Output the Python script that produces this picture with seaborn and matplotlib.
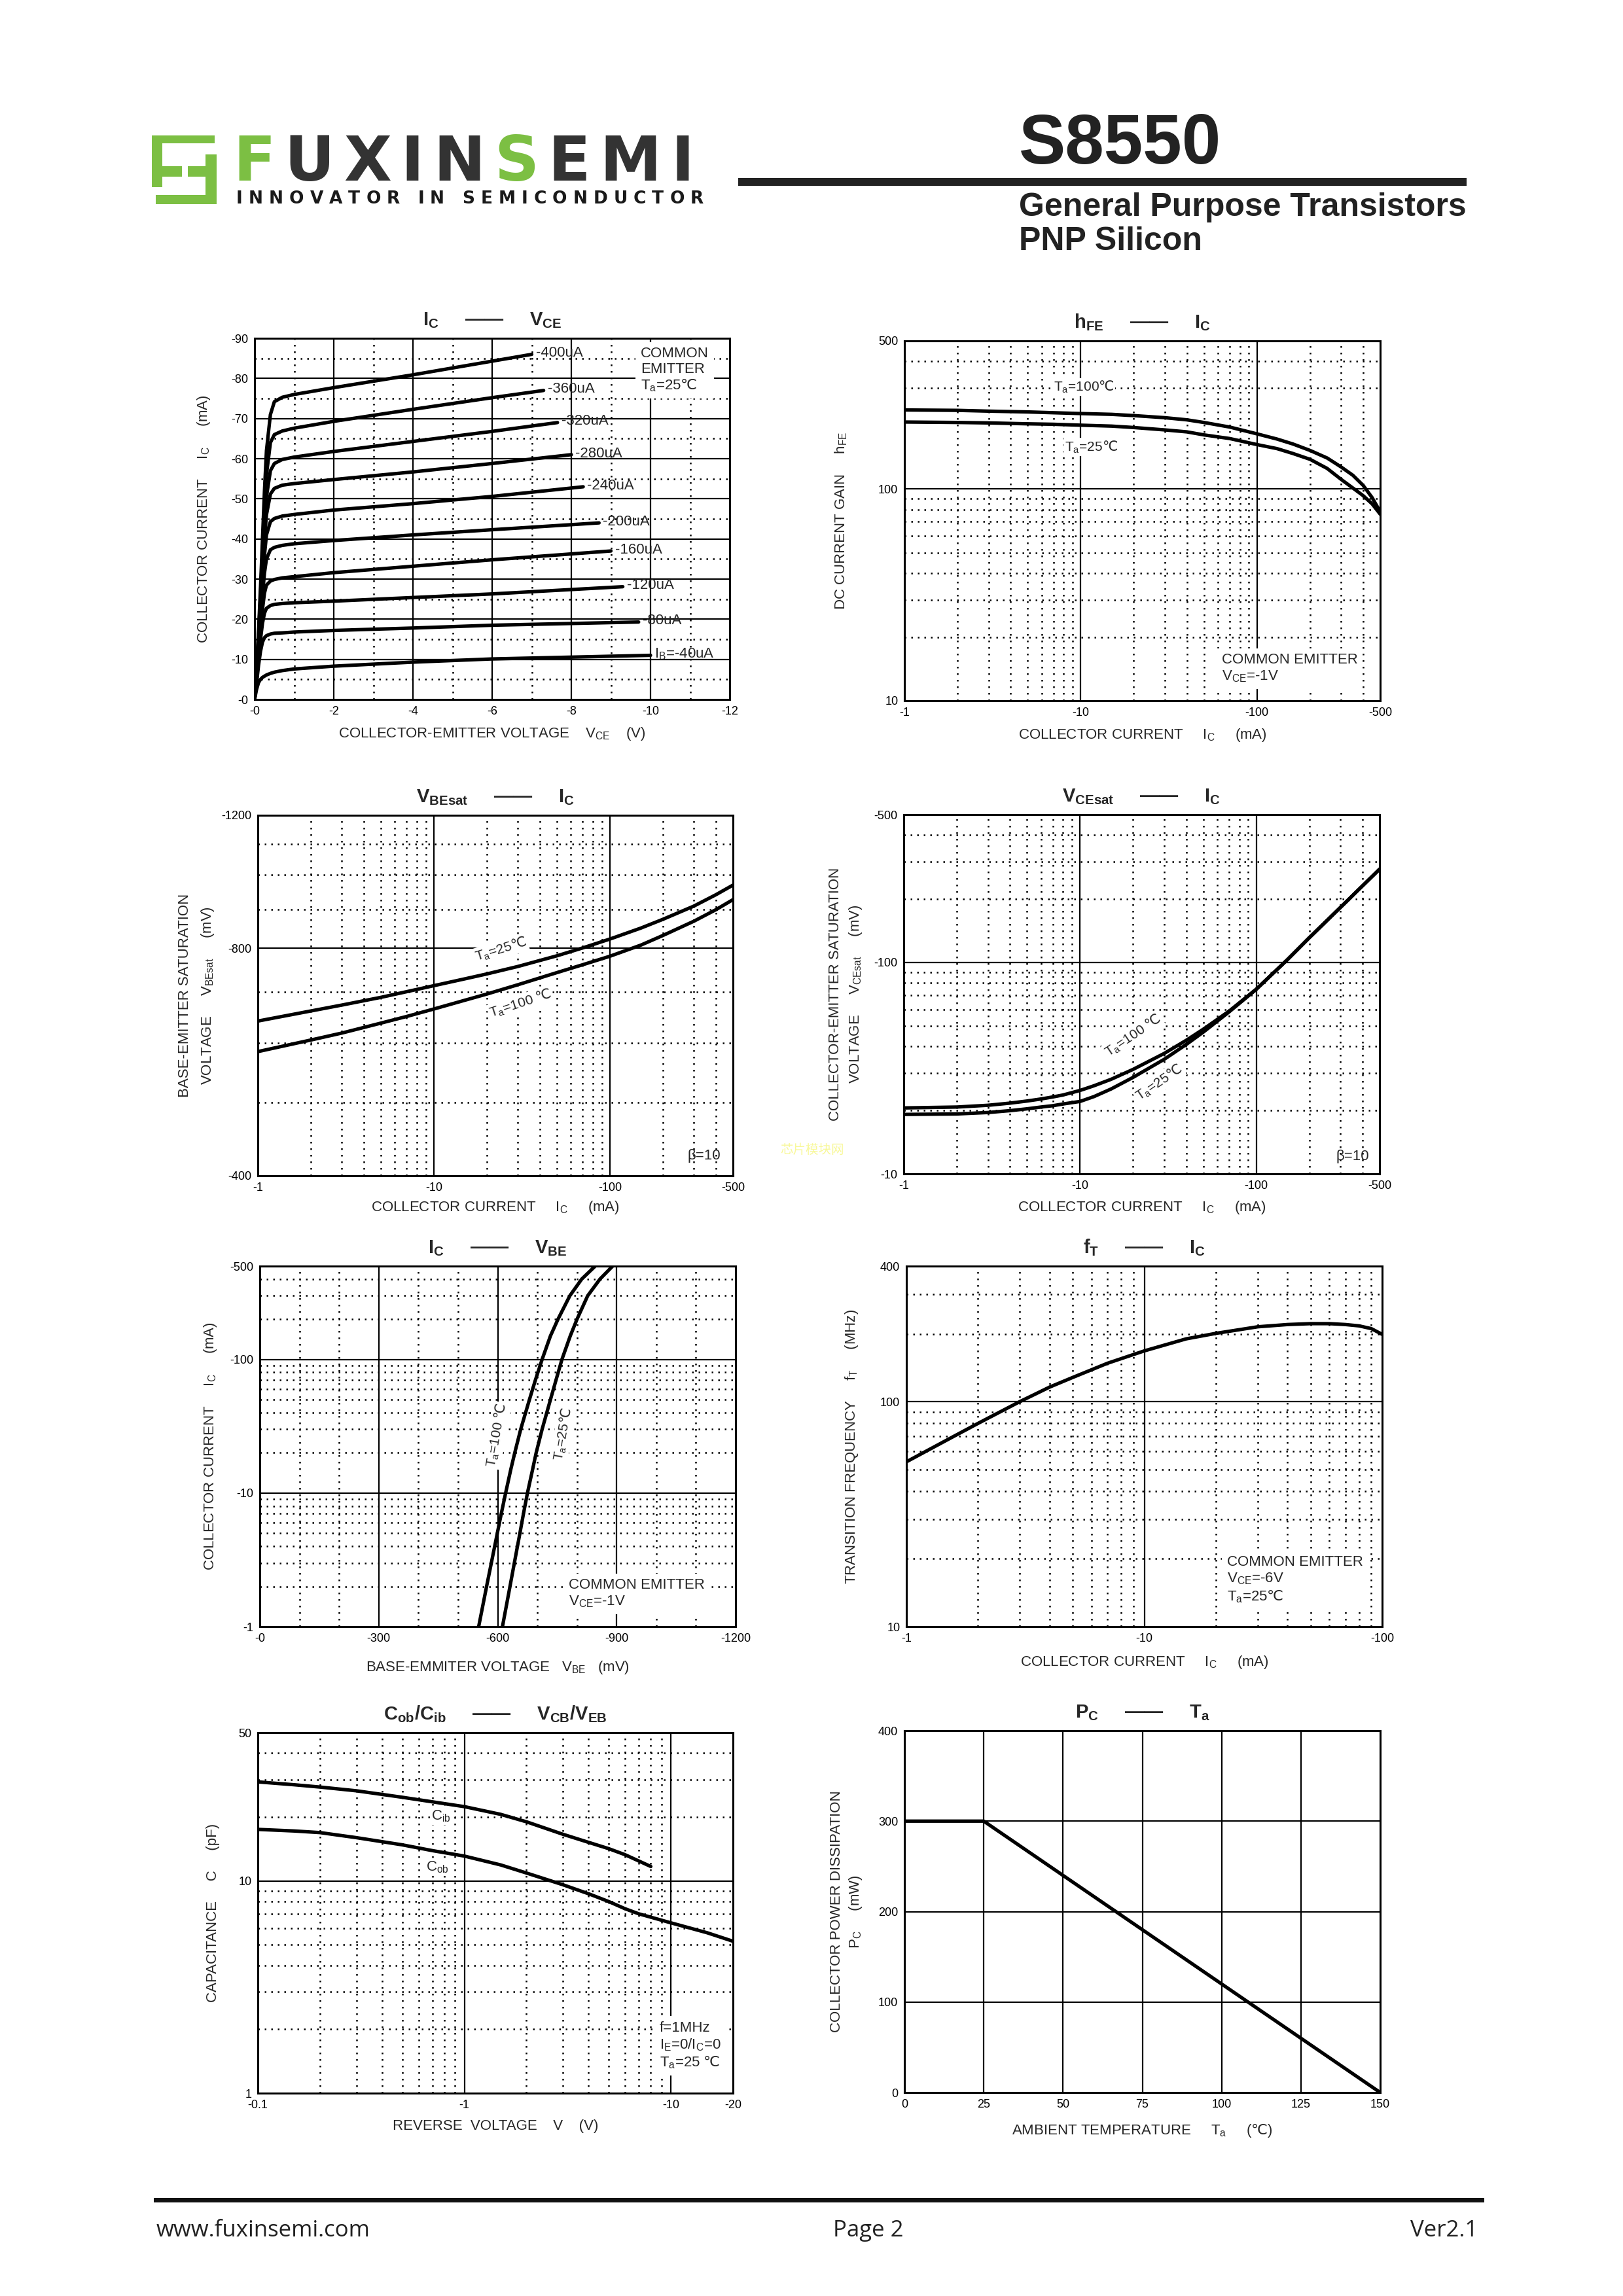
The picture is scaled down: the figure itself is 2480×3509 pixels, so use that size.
import matplotlib
matplotlib.use("Agg")
import matplotlib.pyplot as plt
import pandas as pd
import seaborn as sns
from matplotlib.patches import Rectangle
from matplotlib.ticker import NullLocator

# ---------------- data (magnitudes) ----------------
# Ic - Vce, common emitter, Ta=25C  (V, mA)
vce_knee = [0, 0.05, 0.1, 0.15, 0.2, 0.25, 0.3, 0.4, 0.5, 0.7, 1.0, 2.0, 4.0, 6.0]
ib_labels = ["I$_\\mathrm{B}$=-40uA", "-80uA", "-120uA", "-160uA", "-200uA",
             "-240uA", "-280uA", "-320uA", "-360uA", "-400uA"]
ic_40 = [0, 2.5, 4.2, 5.0, 5.5, 5.8, 6.1, 6.5, 6.8, 7.2, 7.6, 8.3, 9.3, 10.1]
ic_80 = [0, 4, 8.5, 12, 14.3, 15.4, 15.9, 16.3, 16.5, 16.6, 16.8, 17.2, 17.8, 18.5]
ic_120 = [0, 4.5, 10, 15, 19, 21.5, 22.7, 23.4, 23.7, 23.9, 24.1, 24.5, 25.4, 26.3]
ic_160 = [0, 5, 11, 17, 22.5, 26.5, 28.5, 29.5, 29.9, 30.3, 30.6, 31.6, 33.2, 34.8]
ic_200 = [0, 5.5, 12, 19, 26, 31.5, 35, 37.3, 37.9, 38.4, 38.8, 39.6, 41.0, 42.3]
ic_240 = [0, 6, 13, 21, 29, 36, 41, 44.3, 45.1, 45.7, 46.1, 47.2, 48.8, 50.6]
ic_280 = [0, 6.5, 14, 23, 32, 40, 46, 51.2, 52.6, 53.4, 53.8, 54.8, 56.7, 58.8]
ic_320 = [0, 7, 15, 24.5, 34.5, 43.5, 50.5, 57, 58.8, 59.8, 60.4, 61.8, 64.3, 66.8]
ic_360 = [0, 7.5, 16, 26, 37, 47.5, 56, 64, 66.0, 66.9, 67.6, 69.3, 72.3, 75.2]
ic_400 = [0, 8, 17, 28, 40, 52, 62, 71, 74.2, 75.3, 76.0, 77.7, 80.9, 84.3]
vce_end = [10.0, 9.7, 9.3, 9.0, 8.7, 8.3, 8.0, 7.65, 7.3, 7.0]
ic_end = [11.0, 19.3, 28.1, 37.0, 44.0, 53.0, 61.0, 69.0, 77.0, 86.0]

# hFE - Ic, Vce=-1V
hfe_ic = [1, 2, 3, 5, 7, 10, 15, 20, 30, 40, 50, 70, 100, 130, 160, 200, 250, 300, 350,
          400, 450, 500]
hfe_100 = [236, 235, 233, 231, 229, 227, 225, 222, 217, 212, 206, 196, 182, 172, 163,
           152, 140, 127, 116, 104, 91, 78]
hfe_25 = [207, 206, 205, 203, 202, 200, 198, 195, 190, 186, 180, 173, 162, 155, 147,
          138, 125, 111, 101, 93, 85, 76]

# VBEsat - Ic, beta=10  (mA, mV)
besat_ic = [1, 2, 3, 5, 7, 10, 15, 20, 30, 50, 70, 100, 150, 200, 300, 400, 500]
vbesat_25 = [641, 661, 673, 689, 701, 714, 729, 740, 757, 782, 801, 823, 851, 874, 910,
             942, 970]
vbesat_100 = [584, 605, 618, 637, 650, 665, 683, 696, 716, 743, 761, 781, 808, 832, 869,
              900, 928]

# VCEsat - Ic, beta=10  (mA, mV)
cesat_ic = [1, 2, 3, 4, 5, 6, 7, 8, 10, 12, 15, 20, 30, 40, 50, 70, 100, 150, 200, 300, 500]
vcesat_100 = [20.5, 20.7, 21.1, 21.6, 22.1, 22.6, 23.1, 23.6, 24.8, 26.1, 28.0, 31.2,
              37.1, 42.8, 48.3, 58.8, 74.8, 103, 131, 182, 276]
vcesat_25 = [19.1, 19.2, 19.5, 19.9, 20.3, 20.7, 21.0, 21.4, 22.0, 23.2, 25.2, 28.6,
             34.8, 40.9, 46.8, 58.3, 74.6, 103, 131, 182, 276]

# Ic - VBE, Vce=-1V  (mV, mA)
vbe_ic = [1, 2, 3, 5, 7, 10, 15, 20, 30, 50, 70, 100, 150, 200, 300, 400, 500]
vbe_100 = [552, 572, 584, 599, 609, 620, 633, 643, 658, 680, 695, 712, 733, 752, 782,
           812, 846]
vbe_25 = [612, 631, 642, 656, 665, 675, 688, 697, 712, 733, 747, 762, 783, 800, 827,
          858, 890]

# fT - Ic, Vce=-6V  (mA, MHz)
ft_ic = [1, 1.5, 2, 3, 4, 5, 7, 10, 15, 20, 30, 40, 50, 60, 70, 80, 90, 100]
ft_mhz = [54, 68, 80, 100, 116, 128, 148, 168, 190, 201, 215, 220, 222, 222, 220, 217,
          211, 199]

# Cob/Cib - reverse voltage  (V, pF)
cib_v = [0.1, 0.15, 0.2, 0.3, 0.5, 0.7, 1, 1.5, 2, 3, 4, 5, 6, 8]
cib_pf = [29.3, 28.4, 27.7, 26.6, 24.8, 23.6, 22.4, 20.6, 19.0, 16.6, 15.2, 14.2, 13.3, 11.7]
cob_v = [0.1, 0.15, 0.2, 0.3, 0.5, 0.7, 1, 1.5, 2, 3, 4, 5, 6, 7, 8, 10, 15, 20]
cob_pf = [17.5, 17.2, 16.9, 16.0, 14.8, 13.9, 13.1, 11.9, 10.9, 9.6, 8.7, 8.0, 7.4, 7.0,
          6.75, 6.35, 5.7, 5.2]

# Pc - Ta  (C, mW)
ta_c = [0, 25, 150]
pc_mw = [300, 300, 0]

# ---------------- style ----------------
sns.set_style("white")
plt.rcParams["font.family"] = ["Liberation Sans", "DejaVu Sans"]
plt.rcParams["mathtext.fontset"] = "custom"
plt.rcParams["mathtext.rm"] = "Liberation Sans"
plt.rcParams["mathtext.it"] = "Liberation Sans:italic"
plt.rcParams["mathtext.bf"] = "Liberation Sans:bold"
plt.rcParams["mathtext.sf"] = "DejaVu Sans"

W, H = 2480, 3509
fig = plt.figure(figsize=(W / 100, H / 100), dpi=100)
fig.patch.set_facecolor("white")
renderer = fig.canvas.get_renderer()

LW = 3.8
DOT = (0, (1, 3))
WHITE_BOX = dict(boxstyle="square,pad=0.35", fc="white", ec="none")
TIGHT_BOX = dict(boxstyle="square,pad=0.1", fc="white", ec="none")
GREEN = "#7cbf43"
DARK = "#333333"
DEG = "$\\mathsf{\u2103}$"   # degree Celsius sign, taken from DejaVu Sans


def ftext(x, y, s, **kw):
    return fig.text(x / W, 1 - y / H, s, **kw)


def frect(x0, y0, x1, y1, color):
    fig.add_artist(Rectangle((x0 / W, 1 - y1 / H), (x1 - x0) / W, (y1 - y0) / H,
                             transform=fig.transFigure, color=color, lw=0))


def spread(texts, x0, x1):
    # spread a row of single-letter texts evenly between x0 and x1 (pixels)
    widths = [t.get_window_extent(renderer).width for t in texts]
    gap = (x1 - x0 - sum(widths)) / (len(texts) - 1)
    x = x0
    for t, w in zip(texts, widths):
        t.set_x(x / W)
        x += w + gap


def px_axes(left, top, w, h):
    return fig.add_axes([left / W, 1 - (top + h) / H, w / W, h / H])


def draw_grid(ax, xs=(), xd=(), ys=(), yd=()):
    for v in xs:
        ax.axvline(v, color="k", lw=1.6, zorder=1)
    for v in xd:
        ax.axvline(v, color="k", lw=1.8, ls=DOT, zorder=1)
    for v in ys:
        ax.axhline(v, color="k", lw=1.6, zorder=1)
    for v in yd:
        ax.axhline(v, color="k", lw=1.8, ls=DOT, zorder=1)


def finish(ax, xt, xl, yt, yl):
    ax.set_xticks(xt)
    ax.set_xticklabels(xl)
    ax.set_yticks(yt)
    ax.set_yticklabels(yl)
    ax.xaxis.set_minor_locator(NullLocator())
    ax.yaxis.set_minor_locator(NullLocator())
    ax.tick_params(length=0, labelsize=13, pad=7, colors="k")
    for s in ax.spines.values():
        s.set_visible(True)
        s.set_color("k")
        s.set_linewidth(2.2)
    ax.set_xlabel("")
    ax.set_ylabel("")


def labels(ax, title, xlab, xoff, ylabs):
    pos = ax.get_position()
    lx, w, h = pos.x0 * W, pos.width * W, pos.height * H
    ax.text(0.5, 1 + 13 / h, title, transform=ax.transAxes, ha="center",
            va="bottom", fontsize=21, fontweight="bold")
    ax.text(0.5, -xoff / h, xlab, transform=ax.transAxes, ha="center",
            va="center", fontsize=16)
    for xpx, txt in ylabs:
        ax.text((xpx - lx) / w, 0.5, txt, transform=ax.transAxes, rotation=90,
                ha="center", va="center", fontsize=16)


def curve(ax, x, y):
    sns.lineplot(x=x, y=y, color="k", lw=LW, sort=False, ax=ax, zorder=3)


dec1 = [2, 3, 4, 5, 6, 7, 8, 9]
dec10 = [20, 30, 40, 50, 60, 70, 80, 90]

# ---------------- 1. Ic - Vce ----------------
ax = px_axes(389, 517, 726, 552)
curves = [ic_40, ic_80, ic_120, ic_160, ic_200, ic_240, ic_280, ic_320, ic_360, ic_400]
rows = []
for i, ic in enumerate(curves):
    for v, c in zip(vce_knee + [vce_end[i]], ic + [ic_end[i]]):
        rows.append({"curve": i, "vce": v, "ic": c})
df_out = pd.DataFrame(rows)
sns.lineplot(data=df_out, x="vce", y="ic", units="curve", estimator=None,
             sort=False, color="k", lw=LW, ax=ax, zorder=3)
ax.set_xlim(0, 12)
ax.set_ylim(0, 90)
draw_grid(ax, xs=[2, 4, 6, 8, 10], xd=[1, 3, 5, 7, 9, 11],
          ys=range(10, 90, 10), yd=range(5, 90, 10))
for lab, xe, ye in zip(ib_labels, vce_end, ic_end):
    ax.text(xe + 0.1, ye + 0.3, lab, ha="left", va="center", fontsize=16, zorder=4)
ax.text(9.75, 87.8, "COMMON\nEMITTER\nT$_\\mathrm{a}$=25" + DEG, ha="left", va="top",
        fontsize=16, linespacing=1.15, bbox=WHITE_BOX, zorder=4)
finish(ax, range(0, 13, 2), ["-%d" % v for v in range(0, 13, 2)],
       range(0, 91, 10), ["-%d" % v for v in range(0, 91, 10)])
labels(ax, "I$_\\mathbf{C}$     \u2014\u2014     V$_\\mathbf{CE}$",
       "COLLECTOR-EMITTER VOLTAGE    V$_\\mathrm{CE}$    (V)", 52,
       [(311, "COLLECTOR CURRENT     I$_\\mathrm{C}$     (mA)")])

# ---------------- 2. hFE - Ic ----------------
ax = px_axes(1382, 521, 727, 550)
curve(ax, hfe_ic, hfe_100)
curve(ax, hfe_ic, hfe_25)
ax.set_xscale("log")
ax.set_yscale("log")
ax.set_xlim(1, 500)
ax.set_ylim(10, 500)
draw_grid(ax, xs=[10, 100], xd=dec1 + dec10 + [200, 300, 400],
          ys=[100], yd=dec10 + [300, 400])
ax.text(7.0, 303, "T$_\\mathrm{a}$=100" + DEG, ha="left", va="center", fontsize=15,
        bbox=TIGHT_BOX, zorder=4)
ax.text(8.1, 158, "T$_\\mathrm{a}$=25" + DEG, ha="left", va="center", fontsize=15,
        bbox=TIGHT_BOX, zorder=4)
ax.text(63, 16.8, "COMMON EMITTER\nV$_\\mathrm{CE}$=-1V", ha="left", va="top",
        fontsize=16, linespacing=1.2, bbox=WHITE_BOX, zorder=4)
finish(ax, [1, 10, 100, 500], ["-1", "-10", "-100", "-500"],
       [10, 100, 500], ["10", "100", "500"])
labels(ax, "h$_\\mathbf{FE}$     \u2014\u2014     I$_\\mathbf{C}$",
       "COLLECTOR CURRENT     I$_\\mathrm{C}$     (mA)", 52,
       [(1285, "DC CURRENT GAIN     h$_\\mathrm{FE}$")])

# ---------------- 3. VBEsat - Ic ----------------
ax = px_axes(394, 1246, 726, 551)
curve(ax, besat_ic, vbesat_25)
curve(ax, besat_ic, vbesat_100)
ax.set_xscale("log")
ax.set_yscale("log")
ax.set_xlim(1, 500)
ax.set_ylim(400, 1200)
draw_grid(ax, xs=[10, 100], xd=dec1 + dec10 + [200, 300, 400],
          ys=[800], yd=[500, 600, 700, 900, 1000, 1100])
ax.text(24, 797, "T$_\\mathrm{a}$=25" + DEG, ha="center", va="center", fontsize=15,
        rotation=17, bbox=TIGHT_BOX, zorder=4)
ax.text(31, 676, "T$_\\mathrm{a}$=100 " + DEG, ha="center", va="center", fontsize=15,
        rotation=18, bbox=TIGHT_BOX, zorder=4)
ax.text(275, 425, "\u03b2=10", ha="left", va="center", fontsize=16, zorder=4)
finish(ax, [1, 10, 100, 500], ["-1", "-10", "-100", "-500"],
       [400, 800, 1200], ["-400", "-800", "-1200"])
labels(ax, "V$_\\mathbf{BEsat}$     \u2014\u2014     I$_\\mathbf{C}$",
       "COLLECTOR CURRENT     I$_\\mathrm{C}$     (mA)", 48,
       [(283, "BASE-EMITTER SATURATION"),
        (317, "VOLTAGE     V$_\\mathrm{BEsat}$     (mV)")])

# ---------------- 4. VCEsat - Ic ----------------
ax = px_axes(1381, 1245, 727, 549)
curve(ax, cesat_ic, vcesat_100)
curve(ax, cesat_ic, vcesat_25)
ax.set_xscale("log")
ax.set_yscale("log")
ax.set_xlim(1, 500)
ax.set_ylim(10, 500)
draw_grid(ax, xs=[10, 100], xd=dec1 + dec10 + [200, 300, 400],
          ys=[100], yd=dec10 + [200, 300, 400])
ax.text(20, 45, "T$_\\mathrm{a}$=100 " + DEG, ha="center", va="center", fontsize=15,
        rotation=34, bbox=TIGHT_BOX, zorder=4)
ax.text(28, 27, "T$_\\mathrm{a}$=25" + DEG, ha="center", va="center", fontsize=15,
        rotation=34, bbox=TIGHT_BOX, zorder=4)
ax.text(283, 12.1, "\u03b2=10", ha="left", va="center", fontsize=16, zorder=4)
finish(ax, [1, 10, 100, 500], ["-1", "-10", "-100", "-500"],
       [10, 100, 500], ["-10", "-100", "-500"])
labels(ax, "V$_\\mathbf{CEsat}$     \u2014\u2014     I$_\\mathbf{C}$",
       "COLLECTOR CURRENT     I$_\\mathrm{C}$     (mA)", 51,
       [(1276, "COLLECTOR-EMITTER SATURATION"),
        (1307, "VOLTAGE     V$_\\mathrm{CEsat}$     (mV)")])

# ---------------- 5. Ic - VBE ----------------
ax = px_axes(397, 1935, 727, 551)
curve(ax, vbe_100, vbe_ic)
curve(ax, vbe_25, vbe_ic)
ax.set_yscale("log")
ax.set_xlim(0, 1200)
ax.set_ylim(1, 500)
draw_grid(ax, xs=[300, 600, 900], xd=[100, 200, 400, 500, 700, 800, 1000, 1100],
          ys=[10, 100], yd=dec1 + dec10 + [200, 300, 400])
ax.text(598, 27, "T$_\\mathrm{a}$=100 " + DEG, ha="center", va="center", fontsize=15,
        rotation=80, bbox=TIGHT_BOX, zorder=4)
ax.text(765, 27.6, "T$_\\mathrm{a}$=25" + DEG, ha="center", va="center", fontsize=15,
        rotation=80, bbox=TIGHT_BOX, zorder=4)
ax.text(779, 2.3, "COMMON EMITTER\nV$_\\mathrm{CE}$=-1V", ha="left", va="top",
        fontsize=16, linespacing=1.2, bbox=WHITE_BOX, zorder=4)
finish(ax, [0, 300, 600, 900, 1200], ["-0", "-300", "-600", "-900", "-1200"],
       [1, 10, 100, 500], ["-1", "-10", "-100", "-500"])
labels(ax, "I$_\\mathbf{C}$     \u2014\u2014     V$_\\mathbf{BE}$",
       "BASE-EMMITER VOLTAGE   V$_\\mathrm{BE}$   (mV)", 62,
       [(322, "COLLECTOR CURRENT     I$_\\mathrm{C}$     (mA)")])

# ---------------- 6. fT - Ic ----------------
ax = px_axes(1385, 1935, 727, 551)
curve(ax, ft_ic, ft_mhz)
ax.set_xscale("log")
ax.set_yscale("log")
ax.set_xlim(1, 100)
ax.set_ylim(10, 400)
draw_grid(ax, xs=[10], xd=dec1 + dec10, ys=[100], yd=dec10 + [200, 300])
ax.text(22.3, 20.7, "COMMON EMITTER\nV$_\\mathrm{CE}$=-6V\nT$_\\mathrm{a}$=25" + DEG,
        ha="left", va="top", fontsize=16, linespacing=1.2, bbox=WHITE_BOX, zorder=4)
finish(ax, [1, 10, 100], ["-1", "-10", "-100"], [10, 100, 400], ["10", "100", "400"])
labels(ax, "f$_\\mathbf{T}$     \u2014\u2014     I$_\\mathbf{C}$",
       "COLLECTOR CURRENT     I$_\\mathrm{C}$     (mA)", 54,
       [(1302, "TRANSITION FREQUENCY     f$_\\mathrm{T}$     (MHz)")])

# ---------------- 7. Cob/Cib - V ----------------
ax = px_axes(394, 2648, 726, 551)
curve(ax, cib_v, cib_pf)
curve(ax, cob_v, cob_pf)
ax.set_xscale("log")
ax.set_yscale("log")
ax.set_xlim(0.1, 20)
ax.set_ylim(1, 50)
draw_grid(ax, xs=[1, 10], xd=[0.2, 0.3, 0.4, 0.5, 0.6, 0.7, 0.8, 0.9] + dec1,
          ys=[10], yd=dec1 + [20, 30, 40])
ax.text(0.77, 20.2, "C$_\\mathrm{ib}$", ha="center", va="center", fontsize=16,
        bbox=TIGHT_BOX, zorder=4)
ax.text(0.74, 11.6, "C$_\\mathrm{ob}$", ha="center", va="center", fontsize=16,
        bbox=TIGHT_BOX, zorder=4)
ax.text(8.8, 2.19, "f=1MHz\nI$_\\mathrm{E}$=0/I$_\\mathrm{C}$=0\nT$_\\mathrm{a}$=25 " + DEG,
        ha="left", va="top", fontsize=16, linespacing=1.2, bbox=WHITE_BOX, zorder=4)
finish(ax, [0.1, 1, 10, 20], ["-0.1", "-1", "-10", "-20"], [1, 10, 50], ["1", "10", "50"])
labels(ax, "C$_\\mathbf{ob}$/C$_\\mathbf{ib}$     \u2014\u2014     V$_\\mathbf{CB}$/V$_\\mathbf{EB}$",
       "REVERSE  VOLTAGE    V    (V)", 50,
       [(326, "CAPACITANCE     C     (pF)")])

# ---------------- 8. Pc - Ta ----------------
ax = px_axes(1382, 2645, 727, 553)
curve(ax, ta_c, pc_mw)
ax.set_xlim(0, 150)
ax.set_ylim(0, 400)
draw_grid(ax, xs=[25, 50, 75, 100, 125], ys=[100, 200, 300])
finish(ax, range(0, 151, 25), [str(v) for v in range(0, 151, 25)],
       range(0, 401, 100), [str(v) for v in range(0, 401, 100)])
labels(ax, "P$_\\mathbf{C}$     \u2014\u2014     T$_\\mathbf{a}$",
       "AMBIENT TEMPERATURE     T$_\\mathrm{a}$     (" + DEG + ")", 58,
       [(1279, "COLLECTOR POWER DISSIPATION"),
        (1307, "P$_\\mathrm{C}$     (mW)")])

# ---------------- page header ----------------
for x0, y0, x1, y1 in [(232, 207, 328, 219), (232, 207, 248, 286), (248, 254, 278, 270),
                       (287, 254, 316, 270), (314, 236, 331, 312), (238, 298, 331, 312)]:
    frect(x0, y0, x1, y1, GREEN)
logo_letters = ["F", "U", "X", "I", "N", "S", "E", "M", "I"]
logo_colors = [GREEN, DARK, DARK, DARK, DARK, GREEN, DARK, DARK, DARK]
logo = [ftext(360, 276, ch, ha="left", va="baseline", fontsize=68, fontweight="bold",
              family="DejaVu Sans", color=col)
        for ch, col in zip(logo_letters, logo_colors)]
spread(logo, 356, 1060)
slogan = [ftext(361, 311, ch, ha="left", va="baseline", fontsize=19, fontweight="bold",
                family="DejaVu Sans", color="#1a1a1a")
          for ch in "INNOVATOR IN SEMICONDUCTOR"]
spread(slogan, 361, 1075)

ftext(1557, 250, "S8550", ha="left", va="baseline", fontsize=77, fontweight="bold",
      color="#222222")
frect(1128, 272, 2241, 284, "#222222")
ftext(1557, 330, "General Purpose Transistors", ha="left", va="baseline", fontsize=36,
      fontweight="bold", color="#222222")
ftext(1557, 382, "PNP Silicon", ha="left", va="baseline", fontsize=36,
      fontweight="bold", color="#222222")

# watermark
ftext(1192, 1757, "\u82af\u7247\u6a21\u5757\u7f51", ha="left", va="center", fontsize=14,
      family="Noto Sans CJK SC", color="#f8f89a")

# ---------------- footer ----------------
frect(235, 3359, 2268, 3366, "#111111")
ftext(239, 3418, "www.fuxinsemi.com", ha="left", va="baseline", fontsize=25,
      family="Open Sans", color="#222222")
ftext(1327, 3418, "Page 2", ha="center", va="baseline", fontsize=25,
      family="Open Sans", color="#222222")
ftext(2258, 3418, "Ver2.1", ha="right", va="baseline", fontsize=25,
      family="Open Sans", color="#222222")

fig.savefig("out.png", dpi=100, facecolor="white")
